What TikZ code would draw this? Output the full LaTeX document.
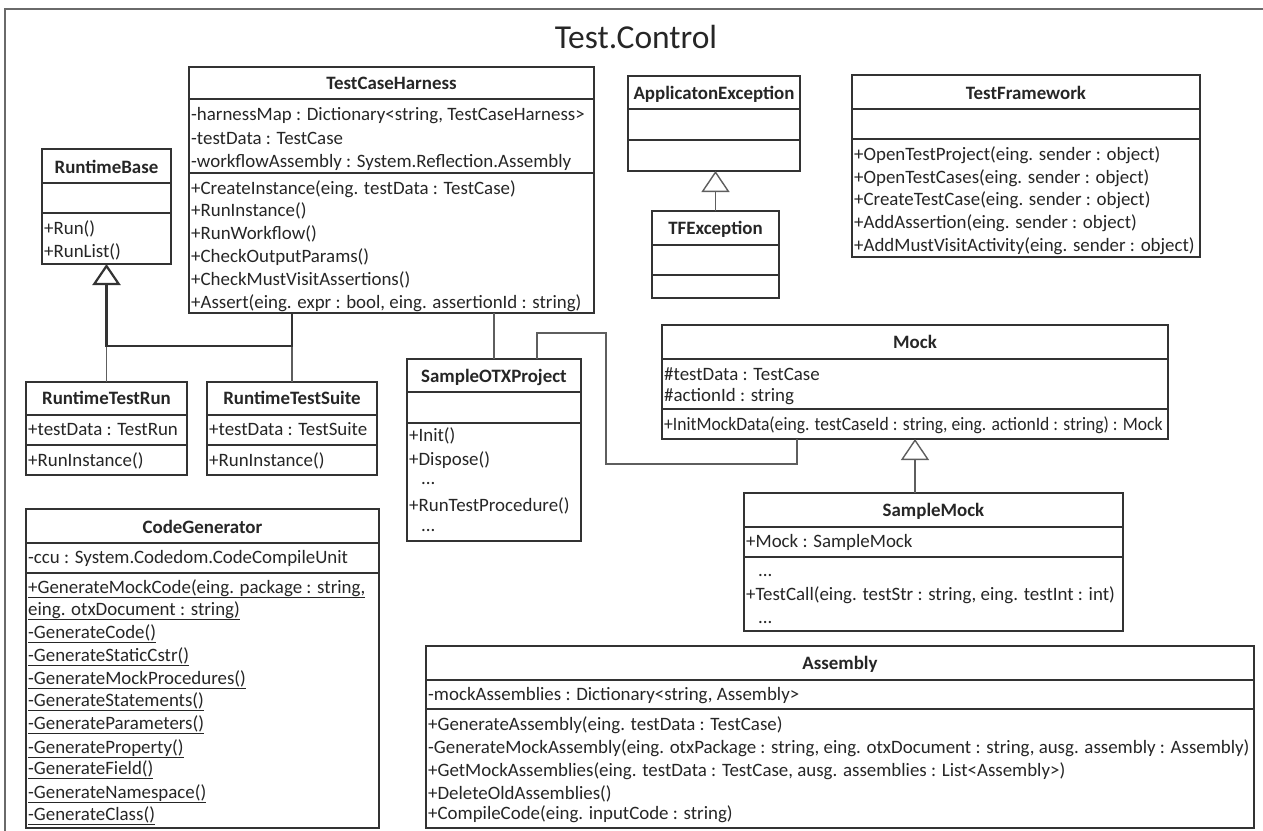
\documentclass[tikz,border=0pt]{standalone}
\usepackage{fontspec}
\setmainfont{Carlito}
\usetikzlibrary{arrows.meta,fit}

\definecolor{ink}{HTML}{262626}
\definecolor{edge}{HTML}{333333}
\definecolor{wirecol}{HTML}{5E5E5E}
\definecolor{framecol}{HTML}{6A6A6A}

\tikzset{
  classbox/.style={draw=edge, line width=1.4bp, fill=white, inner sep=0pt, outer sep=0pt},
  sepline/.style={draw=edge, line width=1.4bp},
  member/.style={font=\fontsize{18.9bp}{22bp}\selectfont, text=ink, inner sep=0pt, anchor=base west},
  cname/.style={font=\fontsize{18.9bp}{22bp}\selectfont\bfseries, text=ink, inner sep=0pt, anchor=base},
  wire/.style={draw=wirecol, line width=1.4bp},
  heavywire/.style={draw=edge, line width=2.2bp},
  inherit/.style={-{Triangle[open, length=21bp, width=28bp]}},
}

% class box: name, x1, y1, x2, y2, compartment separators
\newcommand\umlbox[6]{%
  \node[classbox, fit={(#2,#3) (#4,#5)}] (#1) {};
  \foreach \s in {#6} {\draw[sepline] (#2,\s) -- (#4,\s);}
}
% member line: name, x, vertical centre, text
\newcommand\mline[4]{\node[member] (#1) at (#2,#3+6) {#4};}
% underlined (static) member line
\newcommand\sline[4]{\node[member] (#1) at (#2,#3+6) {\underline{#4}};}
% ellipsis line: name, x, baseline
\newcommand\dline[3]{\node[member] (#1) at (#2,#3) {...};}
% class name: name, x, vertical centre, text
\newcommand\cname[4]{\node[cname] (#1) at (#2,#3+6) {#4};}

\begin{document}
\begin{tikzpicture}[x=1bp, y=-1bp]
\useasboundingbox (0,0) rectangle (1263,831);

% package frame and title
\draw[line width=2bp, draw=framecol] (1280,9) -- (5,9) -- (5,850);
\node[font=\fontsize{33.5bp}{38bp}\selectfont, text=ink, inner sep=0pt] (title) at (636,37) {Test.Control};

% TestCaseHarness
\umlbox{tch}{189}{67}{594}{313}{99,173}
\cname{tchN}{391.5}{83}{TestCaseHarness}
\mline{tchA1}{191}{114}{-harnessMap : Dictionary<string, TestCaseHarness>}
\mline{tchA2}{191}{138}{-testData : TestCase}
\mline{tchA3}{191}{161}{-workflowAssembly : System.Reflection.Assembly}
\mline{tchO1}{191}{188}{+CreateInstance(eing. testData : TestCase)}
\mline{tchO2}{191}{210}{+RunInstance()}
\mline{tchO3}{191}{233}{+RunWorkflow()}
\mline{tchO4}{191}{256}{+CheckOutputParams()}
\mline{tchO5}{191}{279}{+CheckMustVisitAssertions()}
\mline{tchO6}{191}{302}{+Assert(eing. expr : bool, eing. assertionId : string)}

% RuntimeBase
\umlbox{rb}{42}{149}{171}{264}{183,213}
\cname{rbN}{106.5}{167}{RuntimeBase}
\mline{rbO1}{44}{228}{+Run()}
\mline{rbO2}{44}{251}{+RunList()}

% ApplicatonException
\umlbox{ae}{628}{76}{800}{171}{109,140}
\cname{aeN}{714}{93}{ApplicatonException}

% TFException
\umlbox{tfe}{652}{211}{779}{298}{245,275}
\cname{tfeN}{715.5}{228}{TFException}

% TestFramework
\umlbox{tf}{852}{75}{1200}{257}{109,139}
\cname{tfN}{1026}{93}{TestFramework}
\mline{tfO1}{854}{154}{+OpenTestProject(eing. sender : object)}
\mline{tfO2}{854}{177}{+OpenTestCases(eing. sender : object)}
\mline{tfO3}{854}{199}{+CreateTestCase(eing. sender : object)}
\mline{tfO4}{854}{222}{+AddAssertion(eing. sender : object)}
\mline{tfO5}{854}{245}{+AddMustVisitActivity(eing. sender : object)}

% RuntimeTestRun
\umlbox{rtr}{26}{382}{187}{475}{415,445}
\cname{rtrN}{106.5}{398}{RuntimeTestRun}
\mline{rtrA1}{28}{429}{+testData : TestRun}
\mline{rtrO1}{28}{460}{+RunInstance()}

% RuntimeTestSuite
\umlbox{rts}{207}{382}{377}{475}{415,445}
\cname{rtsN}{292}{398}{RuntimeTestSuite}
\mline{rtsA1}{209}{429}{+testData : TestSuite}
\mline{rtsO1}{209}{460}{+RunInstance()}

% SampleOTXProject
\umlbox{sop}{407}{359}{581}{541}{392,423}
\cname{sopN}{494}{376}{SampleOTXProject}
\mline{sopO1}{409}{435}{+Init()}
\mline{sopO2}{409}{459}{+Dispose()}
\dline{sopO3}{421}{484}
\mline{sopO4}{409}{505}{+RunTestProcedure()}
\dline{sopO5}{421}{531}

% Mock
\umlbox{mock}{662}{325}{1168}{439}{359,409}
\cname{mockN}{915}{342}{Mock}
\mline{mockA1}{664}{374}{\#testData : TestCase}
\mline{mockA2}{664}{395}{\#actionId : string}
\mline{mockO1}{664}{424}{\scalebox{0.93}[1]{+InitMockData(eing. testCaseId : string, eing. actionId : string) : Mock}}

% SampleMock
\umlbox{sm}{744}{493}{1123}{631}{527,557}
\cname{smN}{933.5}{510}{SampleMock}
\mline{smA1}{746}{541}{+Mock : SampleMock}
\dline{smO1}{758}{576}
\mline{smO2}{746}{594}{+TestCall(eing. testStr : string, eing. testInt : int)}
\dline{smO3}{758}{623}

% CodeGenerator
\umlbox{cg}{26}{509}{379}{828}{543,573}
\cname{cgN}{202.5}{527}{CodeGenerator}
\mline{cgA1}{28}{557}{-ccu : System.Codedom.CodeCompileUnit}
\sline{cgO1}{28}{587}{+GenerateMockCode(eing. package : string,}
\sline{cgO2}{28}{609}{eing. otxDocument : string)}
\sline{cgO3}{28}{632}{-GenerateCode()}
\sline{cgO4}{28}{655}{-GenerateStaticCstr()}
\sline{cgO5}{28}{678}{-GenerateMockProcedures()}
\sline{cgO6}{28}{700}{-GenerateStatements()}
\sline{cgO7}{28}{723}{-GenerateParameters()}
\sline{cgO8}{28}{747}{-GenerateProperty()}
\sline{cgO9}{28}{768}{-GenerateField()}
\sline{cgO10}{28}{792}{-GenerateNamespace()}
\sline{cgO11}{28}{814}{-GenerateClass()}

% Assembly
\umlbox{asm}{426}{646}{1254}{828}{680,709}
\cname{asmN}{840}{663}{Assembly}
\mline{asmA1}{428}{694}{-mockAssemblies : Dictionary<string, Assembly>}
\mline{asmO1}{428}{724}{+GenerateAssembly(eing. testData : TestCase)}
\mline{asmO2}{428}{747}{-GenerateMockAssembly(eing. otxPackage : string, eing. otxDocument : string, ausg. assembly : Assembly)}
\mline{asmO3}{428}{770}{+GetMockAssemblies(eing. testData : TestCase, ausg. assemblies : List<Assembly>)}
\mline{asmO4}{428}{793}{+DeleteOldAssemblies()}
\mline{asmO5}{428}{813}{+CompileCode(eing. inputCode : string)}

% connectors
\coordinate (rbJ) at (107,346);
\draw[wire] (rtr.north) -- (rtr.north |- rbJ);
\draw[wire] (rts.north) -- (rts.north |- rbJ);
\draw[heavywire, inherit] (tch.south -| rts.north) -- (rts.north |- rbJ) -- (rtr.north |- rbJ) -- (rb.south);

\draw[wire, inherit] (tfe.north) -- (tfe.north |- ae.south);
\draw[wire, inherit] (sm.north -| mock.south) -- (mock.south);

\coordinate (tsx) at (494,0);
\draw[wire] (tch.south -| tsx) -- (sop.north -| tsx);

\coordinate (k1) at (537,333);
\coordinate (k2) at (606,333);
\coordinate (k3) at (606,464);
\coordinate (k4) at (797,464);
\draw[wire] (sop.north -| k1) -- (k1) -- (k2) -- (k3) -- (k4) -- (mock.south -| k4);
\end{tikzpicture}
\end{document}
